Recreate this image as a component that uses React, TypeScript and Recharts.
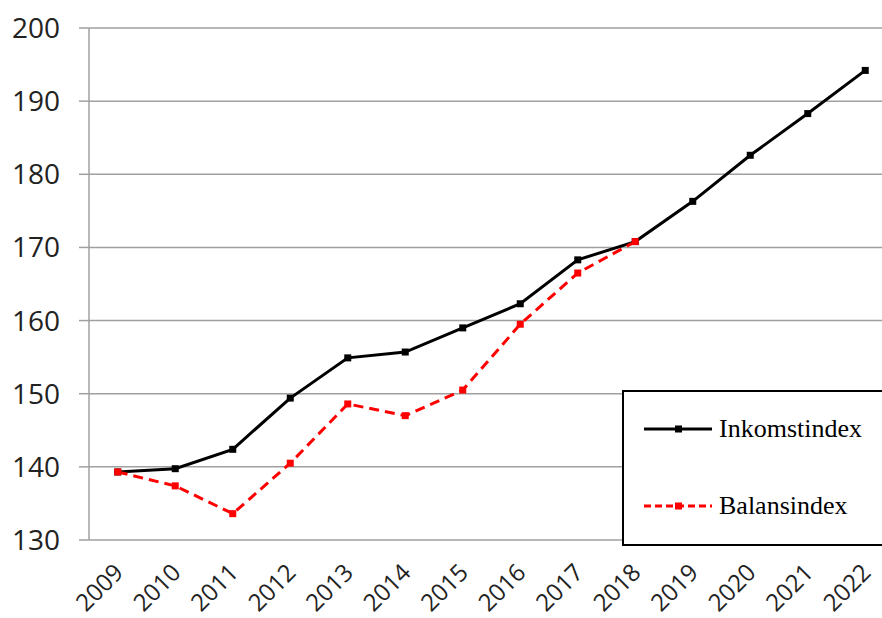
import { LineChart, Line, XAxis, YAxis, CartesianGrid } from "recharts";

const years = ["2009", "2010", "2011", "2012", "2013", "2014", "2015", "2016", "2017", "2018", "2019", "2020", "2021", "2022"];
const inkomstindex = [139.3, 139.75, 142.4, 149.4, 154.9, 155.7, 159.0, 162.3, 168.3, 170.8, 176.3, 182.6, 188.3, 194.2];
const balansindex: (number | null)[] = [139.3, 137.4, 133.6, 140.5, 148.6, 147.0, 150.5, 159.5, 166.5, 170.8, null, null, null, null];
const yTicks = [130, 140, 150, 160, 170, 180, 190, 200];

const data = years.map((year, i) => ({
  x: i + 0.5,
  year,
  inkomst: inkomstindex[i],
  balans: balansindex[i],
}));

const boundaryTicks = years.map((_, i) => i).concat(years.length);
const centerTicks = years.map((_, i) => i + 0.5);

const GREY = "#a0a0a0";

const squareDot = (color: string) => (props: any) => {
  const { cx, cy, key } = props;
  if (cx == null || cy == null || props.value == null) return <g key={key} />;
  return <rect key={key} x={cx - 3.5} y={cy - 3.5} width={7} height={7} fill={color} />;
};

const legendItems = [
  { name: "Inkomstindex", color: "#000000", dash: undefined as string | undefined },
  { name: "Balansindex", color: "#ff0000", dash: "7 4" },
];

export default function App() {
  return (
    <div style={{ position: "absolute", left: 0, top: 0, width: 882, height: 618, overflow: "hidden", background: "#fff" }}>
      <LineChart width={900} height={618} data={data} margin={{ top: 28, right: 6, bottom: 0, left: 0 }}>
        <CartesianGrid vertical={false} stroke={GREY} strokeWidth={1.5} />
        <XAxis
          xAxisId="grid"
          type="number"
          dataKey="x"
          domain={[0, 14]}
          ticks={boundaryTicks}
          tickFormatter={() => ""}
          height={0}
          tickSize={9}
          tickLine={{ stroke: GREY, strokeWidth: 1.5 }}
          axisLine={{ stroke: GREY, strokeWidth: 1.5 }}
          allowDecimals={false}
        />
        <XAxis
          xAxisId="lbl"
          type="number"
          dataKey="x"
          domain={[0, 14]}
          ticks={centerTicks}
          tickFormatter={(v: number) => years[Math.round(v - 0.5)]}
          height={78}
          tickLine={false}
          axisLine={false}
          angle={-45}
          textAnchor="end"
          tickMargin={16}
          tick={{ fontSize: 24, fill: "#222", fontFamily: "Open Sans", dx: -5 }}
          interval={0}
        />
        <YAxis
          domain={[130, 200]}
          ticks={yTicks}
          width={89}
          tickSize={10}
          tickMargin={19}
          tickLine={{ stroke: GREY, strokeWidth: 1.5 }}
          axisLine={{ stroke: GREY, strokeWidth: 1.5 }}
          tick={{ fontSize: 28, fill: "#222", fontFamily: "Open Sans" }}
          interval={0}
        />
        <Line
          xAxisId="lbl"
          type="linear"
          dataKey="inkomst"
          name="Inkomstindex"
          stroke="#000000"
          strokeWidth={3}
          dot={squareDot("#000000")}
          activeDot={false}
          isAnimationActive={false}
        />
        <Line
          xAxisId="lbl"
          type="linear"
          dataKey="balans"
          name="Balansindex"
          stroke="#ff0000"
          strokeWidth={3}
          strokeDasharray="10 6"
          dot={squareDot("#ff0000")}
          activeDot={false}
          isAnimationActive={false}
        />
      </LineChart>
      <div
        style={{
          position: "absolute",
          left: 622,
          top: 390,
          width: 300,
          height: 152,
          border: "2px solid #000",
          background: "#fff",
          fontFamily: "Liberation Serif",
          fontSize: 26,
          color: "#000",
        }}
      >
        {legendItems.map((item, i) => (
          <div key={item.name} style={{ position: "absolute", left: 19, top: 22 + i * 77, display: "flex", alignItems: "center", height: 30 }}>
            <svg width={70} height={10} style={{ marginRight: 6 }}>
              <line x1={1} y1={5} x2={69} y2={5} stroke={item.color} strokeWidth={3} strokeDasharray={item.dash} />
              <rect x={32} y={1.5} width={7} height={7} fill={item.color} />
            </svg>
            <span>{item.name}</span>
          </div>
        ))}
      </div>
    </div>
  );
}
